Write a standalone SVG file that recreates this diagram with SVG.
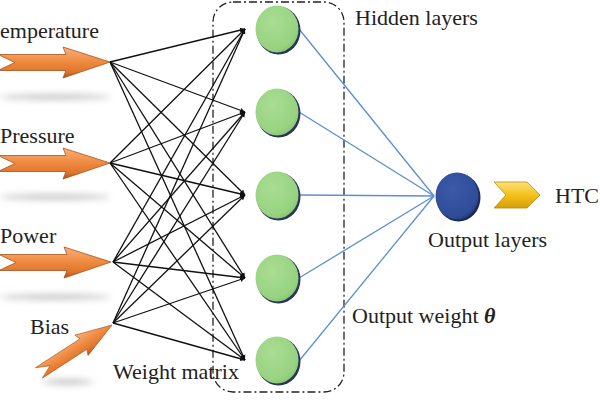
<svg xmlns="http://www.w3.org/2000/svg" width="600" height="400" viewBox="0 0 600 400">
<style>
.t{font-family:"Liberation Serif","Times New Roman",serif;font-size:22px;fill:#222}
.w{stroke:#111;stroke-width:1.3;fill:none;marker-end:url(#ab)}
.o{stroke:#5b8fd0;stroke-width:1.3;fill:none}
.arr{fill:url(#og);stroke:#a8521a;stroke-width:0.8}
.hn{fill:url(#gg)}
.sh{fill:#27355a}
</style>
<defs>
<marker id="ab" markerWidth="6" markerHeight="6" refX="5" refY="3" orient="auto" markerUnits="userSpaceOnUse"><path d="M0,0.5 L5,3 L0,5.5 z" fill="#111"/></marker>
<linearGradient id="og" x1="0" y1="0" x2="0" y2="1">
<stop offset="0" stop-color="#f9b27c"/><stop offset="0.45" stop-color="#f08c43"/><stop offset="0.8" stop-color="#e0752c"/><stop offset="1" stop-color="#a9521c"/>
</linearGradient>
<radialGradient id="gg" cx="0.4" cy="0.35" r="0.7">
<stop offset="0" stop-color="#a9dd93"/><stop offset="0.8" stop-color="#98d381"/><stop offset="1" stop-color="#86c46f"/>
</radialGradient>
<radialGradient id="bg" cx="0.4" cy="0.35" r="0.7">
<stop offset="0" stop-color="#3b5aa8"/><stop offset="0.85" stop-color="#2f4c98"/><stop offset="1" stop-color="#24397a"/>
</radialGradient>
<linearGradient id="yg" x1="0" y1="0" x2="0" y2="1">
<stop offset="0" stop-color="#fde07a"/><stop offset="0.5" stop-color="#f5c21b"/><stop offset="1" stop-color="#d49f06"/>
</linearGradient>
<filter id="blur" x="-30%" y="-200%" width="160%" height="500%"><feGaussianBlur stdDeviation="3"/></filter>
<path id="ar" d="M-112,-7.5 L-44,-7.5 L-47,-15 L0,0 L-47,16 L-44,8.5 L-112,8.5 L-95,0.5 z"/>
</defs>

<g id="shadows" fill="#c9c9c9" filter="url(#blur)">
<ellipse cx="55" cy="97" rx="55" ry="3"/>
<ellipse cx="55" cy="197" rx="55" ry="3"/>
<ellipse cx="55" cy="297" rx="55" ry="3"/>
<ellipse cx="68" cy="382" rx="25" ry="3"/>
</g>

<g id="box">
<rect x="213" y="2" width="131" height="390" rx="20" fill="none" stroke="#222" stroke-width="1.3" stroke-dasharray="8,3,2,3"/>
</g>

<g id="connectors">
<line class="w" x1="110" y1="62" x2="245" y2="29"/>
<line class="w" x1="110" y1="62" x2="245" y2="112"/>
<line class="w" x1="110" y1="62" x2="245" y2="195"/>
<line class="w" x1="110" y1="62" x2="245" y2="278"/>
<line class="w" x1="110" y1="62" x2="245" y2="360"/>
<line class="w" x1="110" y1="163" x2="245" y2="29"/>
<line class="w" x1="110" y1="163" x2="245" y2="112"/>
<line class="w" x1="110" y1="163" x2="245" y2="195"/>
<line class="w" x1="110" y1="163" x2="245" y2="278"/>
<line class="w" x1="110" y1="163" x2="245" y2="360"/>
<line class="w" x1="113" y1="262" x2="245" y2="29"/>
<line class="w" x1="113" y1="262" x2="245" y2="112"/>
<line class="w" x1="113" y1="262" x2="245" y2="195"/>
<line class="w" x1="113" y1="262" x2="245" y2="278"/>
<line class="w" x1="113" y1="262" x2="245" y2="360"/>
<line class="w" x1="113" y1="323" x2="245" y2="29"/>
<line class="w" x1="113" y1="323" x2="245" y2="112"/>
<line class="w" x1="113" y1="323" x2="245" y2="195"/>
<line class="w" x1="113" y1="323" x2="245" y2="278"/>
<line class="w" x1="113" y1="323" x2="245" y2="360"/>
<line class="o" x1="299" y1="29" x2="434" y2="196"/>
<line class="o" x1="299" y1="112" x2="434" y2="196"/>
<line class="o" x1="299" y1="195" x2="434" y2="196"/>
<line class="o" x1="299" y1="278" x2="434" y2="196"/>
<line class="o" x1="299" y1="361" x2="434" y2="196"/>
</g>

<g id="in-temp"><use href="#ar" class="arr" transform="translate(110,62)"/><text class="t" x="0" y="38">emperature</text></g>
<g id="in-pressure"><use href="#ar" class="arr" transform="translate(110,163)"/><text class="t" x="0" y="143">Pressure</text></g>
<g id="in-power"><use href="#ar" class="arr" transform="translate(111,262)"/><text class="t" x="0" y="243">Power</text></g>
<g id="in-bias"><use href="#ar" class="arr" transform="translate(112,325) rotate(-33) scale(0.78)"/><text class="t" x="30" y="334">Bias</text></g>

<g id="h1"><ellipse class="sh" cx="278.5" cy="30.5" rx="22" ry="24"/><ellipse class="hn" cx="277" cy="29" rx="21.5" ry="23.5"/></g>
<g id="h2"><ellipse class="sh" cx="278.5" cy="113.5" rx="22" ry="24"/><ellipse class="hn" cx="277" cy="112" rx="21.5" ry="23.5"/></g>
<g id="h3"><ellipse class="sh" cx="278.5" cy="196.5" rx="22" ry="24"/><ellipse class="hn" cx="277" cy="195" rx="21.5" ry="23.5"/></g>
<g id="h4"><ellipse class="sh" cx="278.5" cy="279.5" rx="22" ry="24"/><ellipse class="hn" cx="277" cy="278" rx="21.5" ry="23.5"/></g>
<g id="h5"><ellipse class="sh" cx="278.5" cy="361.5" rx="22" ry="24"/><ellipse class="hn" cx="277" cy="360" rx="21.5" ry="23.5"/></g>

<g id="out"><ellipse cx="458.5" cy="197.5" rx="22" ry="24" fill="#1c2a55"/><ellipse cx="457" cy="196" rx="21.5" ry="23.5" fill="url(#bg)"/></g>

<g id="htc"><path d="M494,182 L527,182 L540,195 L527,208 L494,208 L506,195 z" fill="url(#yg)" stroke="#b58a10" stroke-width="0.8"/><text class="t" x="555" y="203">HTC</text></g>

<g id="labels">
<text class="t" x="355" y="25">Hidden layers</text>
<text class="t" x="352" y="323">Output weight <tspan font-weight="bold" font-style="italic">θ</tspan></text>
<text class="t" x="113" y="379">Weight matrix</text>
<text class="t" x="428" y="247">Output layers</text>
</g>
</svg>
